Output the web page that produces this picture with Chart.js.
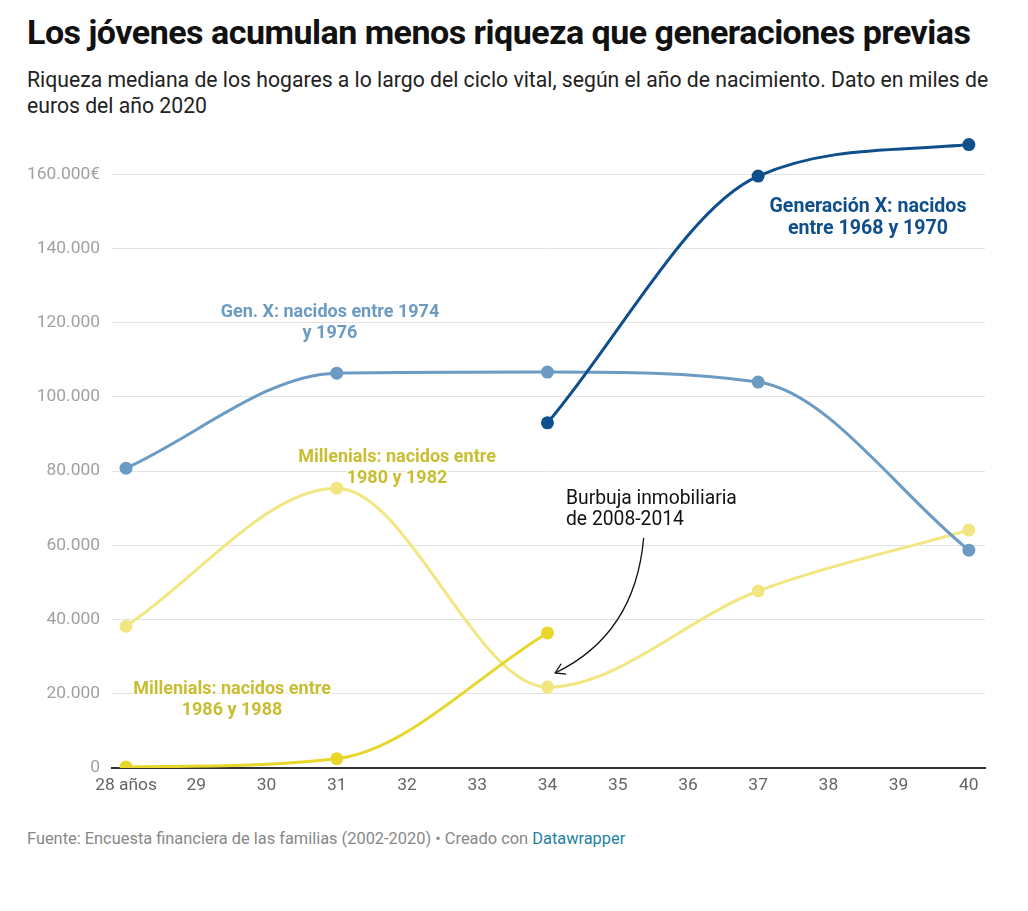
<!DOCTYPE html>
<html lang="es">
<head>
<meta charset="utf-8">
<script src="https://cdn.jsdelivr.net/npm/chart.js@4/dist/chart.umd.min.js"></script>
<style>
  html, body { margin: 0; padding: 0; background: #fff; }
  body { width: 1028px; height: 911px; position: relative; overflow: hidden; font-family: Roboto, "Noto Sans", sans-serif; }
  #title { position: absolute; left: 27px; top: 12px; font-size: 34px; font-weight: 700; color: #111; letter-spacing: -0.5px; white-space: nowrap; }
  #subtitle { position: absolute; left: 27px; top: 67px; width: 975px; font-size: 21.2px; line-height: 26px; color: #222; }
  #wrap { position: absolute; left: 0; top: 108px; width: 1028px; height: 702px; }
  .ann { position: absolute; font-size: 18px; line-height: 21px; text-align: center; white-space: nowrap; font-weight: 700;
         text-shadow: 0 0 2px #fff, 0 0 2px #fff, 1px 1px 0 #fff, -1px -1px 0 #fff, 1px -1px 0 #fff, -1px 1px 0 #fff; transform: translateX(-50%); }
  #footer { position: absolute; left: 27px; top: 829px; font-size: 16.4px; color: #888; white-space: nowrap; }
  #footer a { color: #1d81a2; text-decoration: none; }
</style>
</head>
<body>
<div id="title">Los jóvenes acumulan menos riqueza que generaciones previas</div>
<div id="subtitle">Riqueza mediana de los hogares a lo largo del ciclo vital, según el año de nacimiento. Dato en miles de euros del año 2020</div>
<div id="wrap"><canvas id="c" width="1028" height="702"></canvas></div>

<div class="ann" style="left:330px; top:300px; color:#6b9bc3;">Gen. X: nacidos entre 1974<br>y 1976</div>
<div class="ann" style="left:868px; top:195px; color:#0e4f8c; font-size:19.6px; line-height:22px;">Generación X: nacidos<br>entre 1968 y 1970</div>
<div class="ann" style="left:397px; top:445px; color:#c9bd32;">Millenials: nacidos entre<br>1980 y 1982</div>
<div class="ann" style="left:232px; top:677px; color:#c9bd32;">Millenials: nacidos entre<br>1986 y 1988</div>
<div class="ann" style="left:566px; top:487px; color:#111; font-weight:400; font-size:19.3px; text-align:left; transform:none;">Burbuja inmobiliaria<br>de 2008-2014</div>

<div id="footer">Fuente: Encuesta financiera de las familias (2002-2020) • Creado con <a>Datawrapper</a></div>

<script>
// ---- Data ----
const agesGenX6870 = [34, 37, 40];
const valuesGenX6870 = [93000, 159500, 168000];

const agesGenX7476 = [28, 31, 34, 37, 40];
const valuesGenX7476 = [80800, 106400, 106700, 104000, 58700];

const agesMill8082 = [28, 31, 34, 37, 40];
const valuesMill8082 = [38200, 75400, 21800, 47700, 64100];

const agesMill8688 = [28, 31, 34];
const valuesMill8688 = [300, 2500, 36400];

const xTickValues = [28, 29, 30, 31, 32, 33, 34, 35, 36, 37, 38, 39, 40];
const yTickValues = [0, 20000, 40000, 60000, 80000, 100000, 120000, 140000, 160000];

// arrow annotation (data coordinates): start, control, end
const arrowStart = { x: 35.37, y: 62000 };
const arrowCtrl  = { x: 35.25, y: 36000 };
const arrowEnd   = { x: 34.11, y: 25600 };

const pts = (xs, ys) => xs.map((x, i) => ({ x, y: ys[i] }));
const fmt = v => String(v).replace(/\B(?=(\d{3})+(?!\d))/g, '.');

function series(label, xs, ys, color) {
  return {
    label, data: pts(xs, ys),
    borderColor: color, backgroundColor: color,
    pointBackgroundColor: color, pointBorderColor: color,
    borderWidth: 3, pointRadius: 6.5, pointHoverRadius: 6.5, pointBorderWidth: 0,
    cubicInterpolationMode: 'monotone', fill: false
  };
}

const arrowPlugin = {
  id: 'arrow',
  afterDatasetsDraw(chart) {
    const { ctx, scales: { x, y } } = chart;
    const s = { x: x.getPixelForValue(arrowStart.x), y: y.getPixelForValue(arrowStart.y) };
    const c = { x: x.getPixelForValue(arrowCtrl.x), y: y.getPixelForValue(arrowCtrl.y) };
    const e = { x: x.getPixelForValue(arrowEnd.x), y: y.getPixelForValue(arrowEnd.y) };
    ctx.save();
    ctx.strokeStyle = '#111';
    ctx.lineWidth = 1.3;
    ctx.beginPath();
    ctx.moveTo(s.x, s.y);
    ctx.quadraticCurveTo(c.x, c.y, e.x, e.y);
    ctx.stroke();
    const ang = Math.atan2(e.y - c.y, e.x - c.x);
    const L = 11, spread = 0.55;
    ctx.beginPath();
    ctx.moveTo(e.x - L * Math.cos(ang - spread), e.y - L * Math.sin(ang - spread));
    ctx.lineTo(e.x, e.y);
    ctx.lineTo(e.x - L * Math.cos(ang + spread), e.y - L * Math.sin(ang + spread));
    ctx.stroke();
    ctx.restore();
  }
};

new Chart(document.getElementById('c'), {
  type: 'line',
  data: {
    datasets: [
      series('Generación X: nacidos entre 1968 y 1970', agesGenX6870, valuesGenX6870, '#0e4f8c'),
      series('Millenials: nacidos entre 1986 y 1988', agesMill8688, valuesMill8688, '#e8d62a'),
      series('Gen. X: nacidos entre 1974 y 1976', agesGenX7476, valuesGenX7476, '#6b9bc3'),
      series('Millenials: nacidos entre 1980 y 1982', agesMill8082, valuesMill8082, '#f2e680')
    ]
  },
  options: {
    responsive: false,
    devicePixelRatio: 1,
    animation: false,
    layout: { padding: { left: 27, right: 43, top: 0, bottom: 12 } },
    plugins: { legend: { display: false }, tooltip: { enabled: false } },
    scales: {
      x: {
        type: 'linear', min: 27.8, max: 40.23,
        afterBuildTicks: sc => { sc.ticks = xTickValues.map(v => ({ value: v })); },
        afterFit: sc => { sc.height = 30; },
        grid: { display: false, drawTicks: false },
        border: { display: true, color: '#333', width: 2 },
        ticks: {
          padding: 7, color: '#666', maxRotation: 0, autoSkip: false,
          font: { family: 'Roboto', size: 17.4 },
          callback: v => v === 28 ? '28 años' : String(v)
        }
      },
      y: {
        min: 0, max: 171800,
        afterBuildTicks: sc => { sc.ticks = yTickValues.map(v => ({ value: v })); },
        afterFit: sc => { sc.width = 85; },
        grid: { color: '#e3e3e3', lineWidth: 1, drawTicks: false },
        border: { display: false },
        ticks: {
          padding: 12, color: '#a0a0a0',
          font: { family: 'Roboto', size: 17.4 },
          callback: v => v === 160000 ? fmt(v) + '€' : fmt(v)
        }
      }
    }
  },
  plugins: [arrowPlugin]
});
</script>
</body>
</html>
